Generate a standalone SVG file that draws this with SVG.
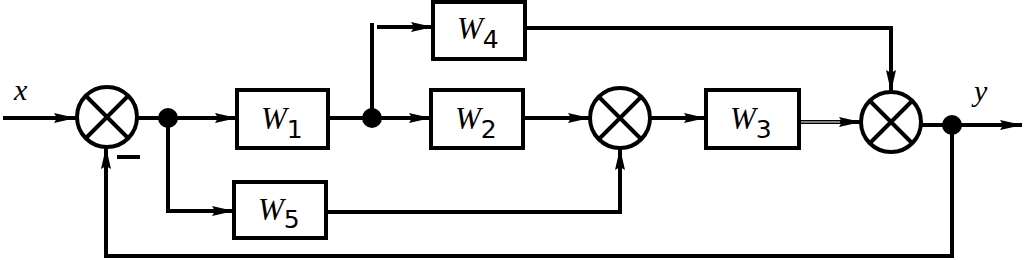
<svg xmlns="http://www.w3.org/2000/svg" width="1024" height="260" viewBox="0 0 1024 260">
<style>
.box{fill:#fff;stroke:#000;stroke-width:4}
.sum{fill:#fff;stroke:#000;stroke-width:4}
.cross{stroke:#000;stroke-width:4}
.ln{fill:none;stroke:#000;stroke-width:4;stroke-linejoin:miter}
.w{font-family:'Liberation Serif','DejaVu Serif',serif;font-style:italic;font-size:31px}
.sub{font-family:'DejaVu Sans',sans-serif;font-style:normal;font-size:25px}
.lbl{font-family:'Liberation Serif','DejaVu Serif',serif;font-style:italic;font-size:30px}
</style>
<defs>
<marker id="arr" viewBox="0 0 22 12" refX="22" refY="6" markerWidth="22" markerHeight="12" markerUnits="userSpaceOnUse" orient="auto">
<path d="M0,1 L22,6 L0,11 L3,6 Z" fill="#000"/>
</marker>
</defs>
<rect width="1024" height="260" fill="#fff"/>
<g id="connectors">
<path class="ln" d="M3,118 H76" marker-end="url(#arr)"/>
<path class="ln" d="M137,118 H237" marker-end="url(#arr)"/>
<path class="ln" d="M168,118 V211 H234" marker-end="url(#arr)"/>
<path class="ln" d="M328,118 H431" marker-end="url(#arr)"/>
<path class="ln" d="M372,118 V23"/>
<path class="ln" d="M377,27 H433" stroke-width="5" marker-end="url(#arr)"/>
<path class="ln" d="M523,118 H590" marker-end="url(#arr)"/>
<path class="ln" d="M326,212 H620 V148" marker-end="url(#arr)"/>
<path class="ln" d="M650,118 H706" marker-end="url(#arr)"/>
<path class="ln" d="M799,122 H861" stroke-width="6" marker-end="url(#arr)"/>
<path d="M799,122 H840" stroke="#fff" stroke-width="1.2"/>
<path class="ln" d="M525,28 H891 V92" marker-end="url(#arr)"/>
<path class="ln" d="M921,125 H1022" marker-end="url(#arr)"/>
<path class="ln" d="M952,125 V256 H106 V147" marker-end="url(#arr)"/>
<circle cx="168" cy="118" r="10" fill="#000"/>
<circle cx="372" cy="118" r="10" fill="#000"/>
<circle cx="952" cy="125" r="10" fill="#000"/>
</g>
<g id="sum1">
<circle class="sum" cx="107" cy="117" r="30"/>
<path class="cross" d="M86,96 L128,138 M128,96 L86,138"/>
<path d="M117,157 H140" stroke="#000" stroke-width="4"/>
</g>
<g id="sum2">
<circle class="sum" cx="620" cy="118" r="30"/>
<path class="cross" d="M599,97 L641,139 M641,97 L599,139"/>
</g>
<g id="sum3">
<circle class="sum" cx="891" cy="122" r="30"/>
<path class="cross" d="M870,101 L912,143 M912,101 L870,143"/>
</g>
<g id="W1">
<rect class="box" x="237" y="90" width="91" height="58"/>
<text x="261" y="129" class="w">W<tspan class="sub" dy="9">1</tspan></text>
</g>
<g id="W2">
<rect class="box" x="431" y="90" width="92" height="58"/>
<text x="455" y="129" class="w">W<tspan class="sub" dy="9">2</tspan></text>
</g>
<g id="W3">
<rect class="box" x="706" y="90" width="93" height="58"/>
<text x="730" y="129" class="w">W<tspan class="sub" dy="9">3</tspan></text>
</g>
<g id="W4">
<rect class="box" x="433" y="2" width="92" height="57"/>
<text x="457" y="39" class="w">W<tspan class="sub" dy="9">4</tspan></text>
</g>
<g id="W5">
<rect class="box" x="234" y="182" width="92" height="56"/>
<text x="258" y="220" class="w">W<tspan class="sub" dy="8">5</tspan></text>
</g>
<g id="labels">
<text x="14" y="100" class="lbl">x</text>
<text x="974" y="101" class="lbl" font-size="32">y</text>
</g>
</svg>
